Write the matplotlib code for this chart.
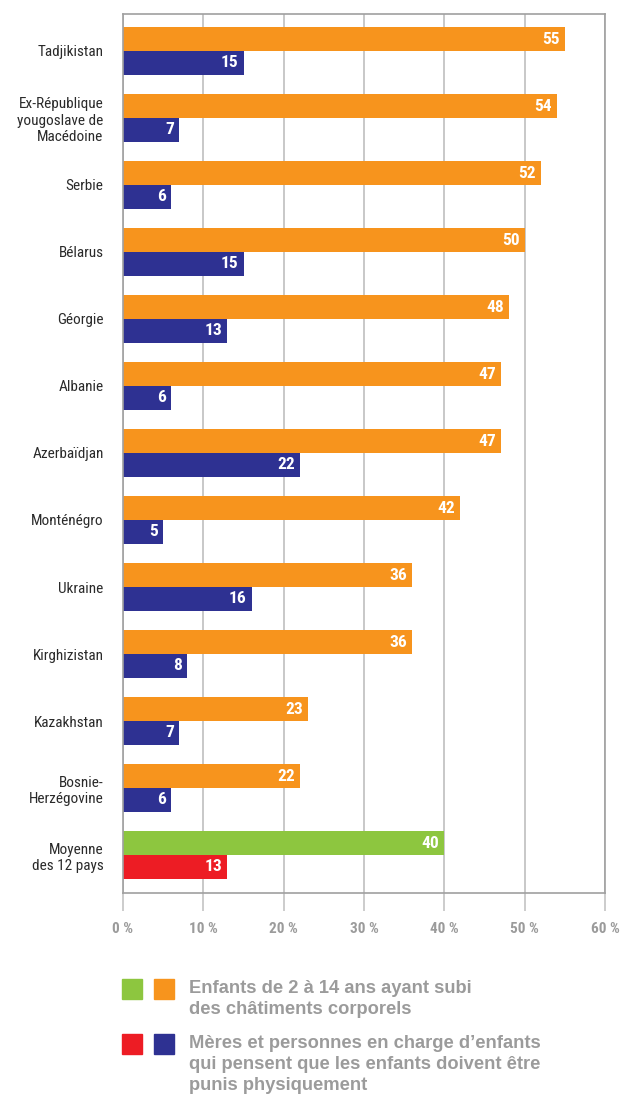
import matplotlib
matplotlib.use('Agg')
import matplotlib.pyplot as plt
from matplotlib.patches import Rectangle

plt.rcParams['font.family'] = ['Roboto Condensed', 'DejaVu Sans']

countries = ['Tadjikistan', 'Ex-République\nyougoslave de\nMacédoine', 'Serbie', 'Bélarus',
             'Géorgie', 'Albanie', 'Azerbaïdjan', 'Monténégro', 'Ukraine', 'Kirghizistan',
             'Kazakhstan', 'Bosnie-\nHerzégovine', 'Moyenne\ndes 12 pays']
enfants = [55, 54, 52, 50, 48, 47, 47, 42, 36, 36, 23, 22, 40]
meres = [15, 7, 6, 15, 13, 6, 22, 5, 16, 8, 7, 6, 13]
xticks = [0, 10, 20, 30, 40, 50, 60]
xtick_labels = ['0 %', '10 %', '20 %', '30 %', '40 %', '50 %', '60 %']
legend_labels = ['Enfants de 2 à 14 ans ayant subi\ndes châtiments corporels',
                 'Mères et personnes en charge d\u2019enfants\nqui pensent que les enfants doivent être\npunis physiquement']

ORANGE = '#F7941D'
NAVY = '#2E3192'
GREEN = '#8DC63F'
RED = '#ED1C24'
FRAME = '#A0A0A0'
GRID = '#C4C4C4'
LEGTXT = '#9B9B9B'

W, H = 621, 1098
fig = plt.figure(figsize=(W / 100, H / 100), dpi=100)
ax = fig.add_axes([123 / W, 1 - 893 / H, (605 - 123) / W, (893 - 14) / H])

n = len(countries)
bh = 0.351
top_colors = [ORANGE] * (n - 1) + [GREEN]
bot_colors = [NAVY] * (n - 1) + [RED]
ys = list(range(n))

ax.barh([y - bh / 2 for y in ys], enfants, height=bh, color=top_colors, zorder=3)
ax.barh([y + bh / 2 for y in ys], meres, height=bh, color=bot_colors, zorder=3)

for y, v in zip(ys, enfants):
    ax.text(v - 0.6, y - bh / 2, str(v), ha='right', va='center', color='white',
            fontsize=12.5, fontweight='bold', zorder=4)
for y, v in zip(ys, meres):
    ax.text(v - 0.6, y + bh / 2, str(v), ha='right', va='center', color='white',
            fontsize=12.5, fontweight='bold', zorder=4)

ax.set_xlim(0, 60)
ax.set_ylim(12.567, -0.552)
ax.set_xticks(xticks)
ax.set_xticklabels(xtick_labels, fontsize=11, fontweight='bold', color=LEGTXT)
ax.set_yticks(ys)
ax.set_yticklabels(countries, fontsize=11, color='#2a2a2a', linespacing=1.2)
ax.tick_params(axis='y', length=0, pad=14)
ax.tick_params(axis='x', direction='out', length=13, width=1.2, color=GRID, pad=8)
ax.grid(axis='x', color=GRID, lw=1.3, zorder=0)
for side in ['top', 'right', 'left', 'bottom']:
    ax.spines[side].set_color(FRAME)
    ax.spines[side].set_linewidth(1.2)
ax.spines['left'].set_zorder(5)

# legend
sq = 20
fig.patches.append(Rectangle((122 / W, 1 - 999 / H), sq / W, sq / H, color=GREEN, transform=fig.transFigure))
fig.patches.append(Rectangle((154 / W, 1 - 999 / H), sq / W, sq / H, color=ORANGE, transform=fig.transFigure))
fig.patches.append(Rectangle((122 / W, 1 - 1054 / H), sq / W, sq / H, color=RED, transform=fig.transFigure))
fig.patches.append(Rectangle((154 / W, 1 - 1054 / H), sq / W, sq / H, color=NAVY, transform=fig.transFigure))
leg_font = ['Liberation Sans', 'DejaVu Sans']
fig.text(189 / W, 1 - 980 / H, legend_labels[0], ha='left', va='top', fontsize=13.2,
         fontweight='bold', color=LEGTXT, linespacing=1.32, family=leg_font)
fig.text(189 / W, 1 - 1035 / H, legend_labels[1], ha='left', va='top', fontsize=13.2,
         fontweight='bold', color=LEGTXT, linespacing=1.32, family=leg_font)

fig.savefig('out.png', dpi=100)
